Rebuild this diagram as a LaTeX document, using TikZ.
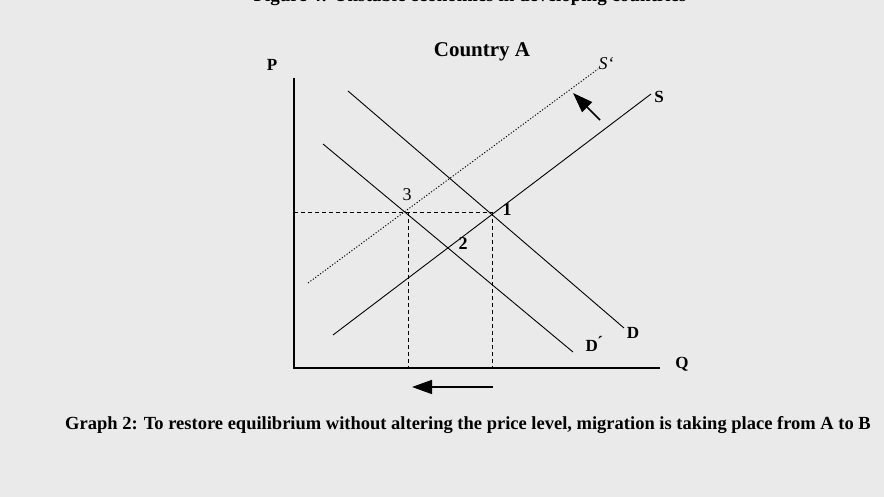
\documentclass[tikz,border=0pt]{standalone}
\usepackage{fontspec}
\setmainfont{Liberation Serif}
\usetikzlibrary{arrows.meta}
\definecolor{bgpat}{RGB}{234,234,234}
\tikzset{
  lbl/.style={inner sep=0pt, font=\bfseries\fontsize{17}{17}\selectfont},
  curve/.style={line width=0.9pt, black},
  axis/.style={line width=1.4pt, black},
  guide/.style={line width=0.9pt, dash pattern=on 4pt off 3pt},
  shifted/.style={line width=0.9pt, dash pattern=on 1.2pt off 1.8pt},
  bigarrow/.style={line width=1.6pt, -{Triangle[length=20pt, width=14pt]}}
}
\begin{document}
\begin{tikzpicture}[x=1pt, y=-1pt]
\useasboundingbox (0,0) rectangle (884,497);
\fill[bgpat] (0,0) rectangle (884,497);
% cut-off title
\begin{scope}
\clip (0,0) rectangle (884,8);
\node[inner sep=0pt, anchor=base, font=\bfseries\fontsize{19}{19}\selectfont] (title) at (470,2) {Figure 4: Unstable economies in developing countries};
\end{scope}
% axes
\coordinate (top) at (294,78);
\coordinate (origin) at (294,368);
\coordinate (right) at (660,368);
\draw[axis] (top) -- (origin) -- (right);
\node[lbl] (P) at (272,65) {P};
\node[lbl] (Q) at (682,364) {Q};
\node[lbl, font=\bfseries\fontsize{21}{21}\selectfont] (country) at (482,52) {Country A};
% equilibrium points
\coordinate (e1) at (492,212);
\coordinate (e3) at (408,212);
\coordinate (e2) at (450,246);
\coordinate (yaxis1) at (294,212);
\coordinate (q1) at (492,368);
\coordinate (q3) at (408,368);
% curve ends
\coordinate (Sa) at (333,335);
\coordinate (Sb) at (651,94);
\coordinate (S2a) at (308,283);
\coordinate (S2b) at (598,69);
\coordinate (Da) at (348,91);
\coordinate (Db) at (624,328);
\coordinate (D2a) at (323,144);
\coordinate (D2b) at (573,352);
% guides
\draw[guide] (yaxis1) -- (e1);
\draw[guide] (e3) -- (q3);
\draw[guide] (e1) -- (q1);
% curves
\draw[curve] (Sa) -- (Sb);
\draw[shifted] (S2a) -- (S2b);
\draw[curve] (Da) -- (Db);
\draw[curve] (D2a) -- (D2b);
% labels
\node[lbl] (Slbl) at (659,97) {S};
\node[inner sep=0pt, font=\fontsize{18}{18}\selectfont\itshape] (S2lbl) at (606,64) {S`};
\node[lbl] (Dlbl) at (633,333) {D};
\node[lbl] (D2lbl) at (594,344) {D\'{}};
\node[lbl, font=\bfseries\fontsize{18}{18}\selectfont] (l1) at (507,210) {1};
\node[lbl, font=\bfseries\fontsize{18}{18}\selectfont] (l2) at (463,244) {2};
\node[inner sep=0pt, font=\fontsize{18}{18}\selectfont] (l3) at (407,195) {3};
% arrows
\coordinate (a1s) at (600,120);
\coordinate (a1e) at (573,93);
\draw[bigarrow] (a1s) -- (a1e);
\coordinate (a2s) at (493,387);
\coordinate (a2e) at (412,387);
\draw[bigarrow] (a2s) -- (a2e);
% caption
\node[inner sep=0pt, anchor=west, font=\bfseries\fontsize{18.5}{18.5}\selectfont] (cap) at (65,425) {Graph 2: To restore equilibrium without altering the price level, migration is taking place from A to B};
\end{tikzpicture}
\end{document}
